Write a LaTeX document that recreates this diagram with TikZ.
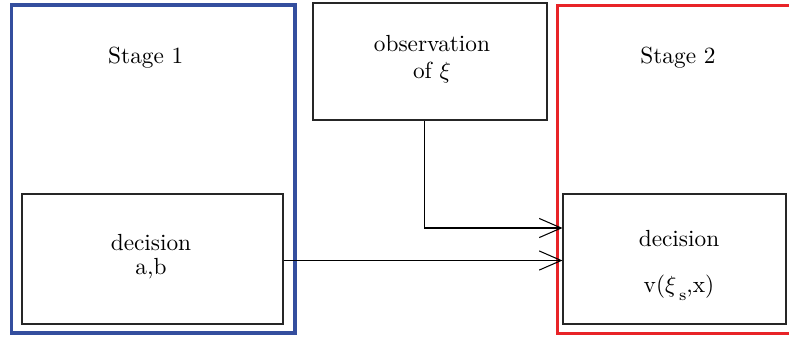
\documentclass[tikz,border=0pt]{standalone}
\usetikzlibrary{arrows.meta}
\definecolor{stageblue}{RGB}{52,78,158}
\definecolor{stagered}{RGB}{232,35,40}
\begin{document}
\begin{tikzpicture}[x=0.429pt,y=-0.429pt,
  box/.style={draw=black!85,line width=0.45pt,rectangle,inner sep=0pt},
  txt/.style={font=\fontsize{10}{12}\selectfont,align=center,anchor=base,inner sep=0pt},
  conn/.style={draw=black,line width=0.45pt,-{Straight Barb[length=9.4pt,width=8.2pt]}},
  stage/.style={line width=1.7pt}]
\useasboundingbox (0,0) rectangle (789,336);
% stage frames
\draw[stage,draw=stageblue] (11.5,5) rectangle (295,333);
\draw[stage,draw=stagered] (800,5.5) -- (557.5,5.5) -- (557.5,333.5) -- (800,333.5);
% boxes
\node[box,minimum width=261*0.429pt,minimum height=130*0.429pt] (dec1) at (152.5,259) {};
\node[box,minimum width=234*0.429pt,minimum height=117*0.429pt] (obs) at (430,61.5) {};
\node[box,minimum width=223*0.429pt,minimum height=130*0.429pt] (dec2) at (674.5,259) {};
% texts (anchored at the baseline of the last line)
\node[txt] (s1) at (145.8,63.3) {Stage 1};
\node[txt] (s2) at (678,63.3) {Stage 2};
\node[txt] (t1) at (151,274.3) {decision\\[-1.6pt]a,b};
\node[txt] (to) at (432,78.3) {observation\\[-0.6pt]of $\xi$};
\node[txt] (t2) at (679,292) {decision\\[7.7pt]v($\xi$\raisebox{-3.6pt}{\fontsize{7}{8}\selectfont\,s},x)};
% connectors
\coordinate (drop) at ([xshift=-5.7*0.429pt]obs.south);
\coordinate (bend) at (drop |- 0,228);
\draw[conn] (drop) -- (bend) -- (bend -| dec2.west);
\draw[conn] (dec1.east |- 0,260.5) -- (dec2.west |- 0,260.5);
\end{tikzpicture}
\end{document}
